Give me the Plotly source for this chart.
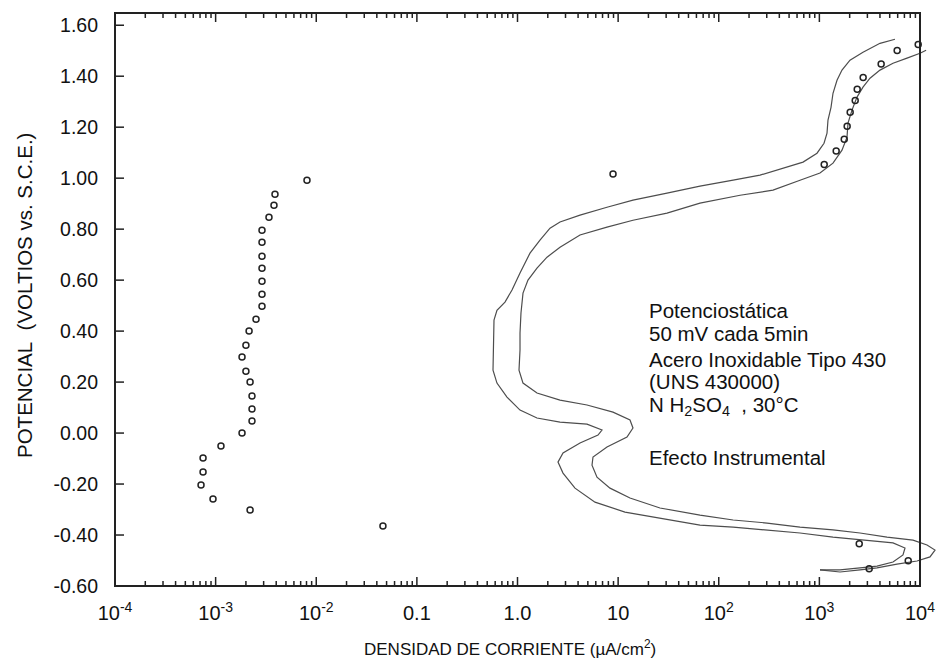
import plotly.graph_objects as go

# ---------------- data ----------------
# open-circle measurements (current density uA/cm2, potential V)
dots_i = [0.00809, 0.00389, 0.00380, 0.00339, 0.00289, 0.00289, 0.00289, 0.00289,
          0.00289, 0.00289, 0.00289, 0.00252, 0.00215, 0.00200, 0.00183, 0.00200,
          0.00220, 0.00230, 0.00230, 0.00230, 0.00183, 0.00113, 0.000750, 0.000750,
          0.000716, 0.000942, 0.00220, 0.046, 8.9,
          1117, 1469, 1766, 1888, 2023, 2270, 2377, 2723, 4111, 5929, 9594,
          2489, 3126, 7638]
dots_v = [0.992, 0.937, 0.894, 0.847, 0.796, 0.749, 0.694, 0.647,
          0.596, 0.545, 0.498, 0.447, 0.400, 0.345, 0.298, 0.243,
          0.200, 0.145, 0.094, 0.047, 0.000, -0.051, -0.098, -0.153,
          -0.204, -0.259, -0.302, -0.365, 1.016,
          1.054, 1.107, 1.153, 1.204, 1.259, 1.305, 1.349, 1.395, 1.448, 1.501, 1.524,
          -0.434, -0.532, -0.501]

# curve A (outer at top / left S)
curve_a_i = [5644, 4004, 2713, 2015, 1678, 1497, 1366, 1305, 1218, 1191, 1112, 947, 688,
             435, 257, 139, 65.1, 30.6, 14.05, 7.75, 4.18, 2.645, 2.104, 1.673, 1.331,
             1.059, 0.882, 0.751, 0.625, 0.584, 0.571, 0.571, 0.625, 0.786, 1.059, 1.562,
             2.645, 4.906, 6.916, 6.31, 4.18, 2.833, 2.526, 2.833, 3.728, 5.891, 11.70,
             26.07, 65.1, 139, 302, 642, 1366, 2974, 5392, 7094, 6778, 5392, 3739, 2534,
             1603, 1014]
curve_a_v = [1.545, 1.529, 1.494, 1.463, 1.424, 1.384, 1.333, 1.278, 1.228, 1.177, 1.137,
             1.098, 1.063, 1.039, 1.012, 0.992, 0.969, 0.941, 0.914, 0.886, 0.855, 0.828,
             0.804, 0.757, 0.706, 0.628, 0.561, 0.514, 0.482, 0.443, 0.326, 0.247, 0.196,
             0.141, 0.090, 0.059, 0.043, 0.035, 0.012, -0.008, -0.039, -0.078, -0.114,
             -0.157, -0.216, -0.271, -0.310, -0.333, -0.361, -0.369, -0.380, -0.392,
             -0.408, -0.420, -0.431, -0.451, -0.478, -0.506, -0.522, -0.529, -0.537, -0.537]

# curve B (inner at top / right S)
curve_b_i = [11500, 10000, 7428, 5392, 4004, 3185, 2713, 2365, 2110, 1925, 1882, 1678, 1366,
             1014, 642, 346, 163, 65.1, 30.6, 14.05, 7.75, 4.18, 2.645, 1.965, 1.562, 1.271,
             1.134, 1.083, 1.059, 1.059, 1.035, 1.134, 1.562, 2.645, 4.906, 8.894, 13.12,
             14.05, 12.25, 7.75, 5.628, 5.501, 6.167, 8.304, 13.12, 26.07, 65.1, 139, 302,
             642, 1366, 2534, 4699, 8519, 11740, 14100, 12570, 9338, 5907, 3739, 2534,
             1603, 1014]
curve_b_v = [1.502, 1.490, 1.471, 1.451, 1.424, 1.392, 1.357, 1.318, 1.267, 1.216, 1.161,
             1.110, 1.059, 1.020, 0.992, 0.953, 0.933, 0.902, 0.863, 0.835, 0.808, 0.777,
             0.729, 0.690, 0.647, 0.600, 0.549, 0.471, 0.392, 0.326, 0.247, 0.196, 0.157,
             0.129, 0.110, 0.082, 0.051, 0.020, -0.016, -0.055, -0.094, -0.126, -0.173,
             -0.216, -0.255, -0.294, -0.322, -0.341, -0.353, -0.369, -0.380, -0.392,
             -0.408, -0.420, -0.439, -0.459, -0.486, -0.502, -0.514, -0.529, -0.537,
             -0.545, -0.537]

x_tickvals = [1e-4, 1e-3, 1e-2, 0.1, 1, 10, 100, 1e3, 1e4]
x_ticktext = ["10<sup>-4</sup>", "10<sup>-3</sup>", "10<sup>-2</sup>", "0.1", "1.0", "10",
              "10<sup>2</sup>", "10<sup>3</sup>", "10<sup>4</sup>"]
x_minor = [m * d for d in [1e-4, 1e-3, 1e-2, 0.1, 1, 10, 100, 1000] for m in range(2, 10)]
y_tickvals = [-0.6, -0.4, -0.2, 0.0, 0.2, 0.4, 0.6, 0.8, 1.0, 1.2, 1.4, 1.6]
y_ticktext = ["-0.60", "-0.40", "-0.20", "0.00", "0.20", "0.40", "0.60", "0.80",
              "1.00", "1.20", "1.40", "1.60"]
y_range = [-0.6, 1.648]

info_lines = ["Potenciostática", "50 mV cada 5min", "Acero Inoxidable Tipo 430",
              "(UNS 430000)", "N H<sub>2</sub>SO<sub>4</sub>\u00a0\u00a0, 30°C",
              "Efecto Instrumental"]

# ---------------- figure ----------------
FONT = "Arial, Liberation Sans, sans-serif"
W, H = 939, 666
ML, MR, MT, MB = 115, 2, 13, 80
frame_right = 920
plot_w = W - ML - MR
plot_h = H - MT - MB
dom = (frame_right - ML) / plot_w      # fraction of plot width where 10^4 sits
n_dec = 8
AXC = "#222222"
TXT = "#111111"

fig = go.Figure()
line_style = dict(color="#4d4d4d", width=1.2)
fig.add_trace(go.Scatter(x=curve_a_i, y=curve_a_v, mode="lines", line=line_style,
                         showlegend=False, hoverinfo="skip"))
fig.add_trace(go.Scatter(x=curve_b_i, y=curve_b_v, mode="lines", line=line_style,
                         showlegend=False, hoverinfo="skip"))
fig.add_trace(go.Scatter(x=dots_i, y=dots_v, mode="markers",
                         marker=dict(symbol="circle-open", size=6, color=AXC,
                                     line=dict(width=1.5, color=AXC)),
                         showlegend=False, cliponaxis=False))

fig.update_layout(
    template="none",
    width=W, height=H,
    margin=dict(l=ML, r=MR, t=MT, b=MB),
    paper_bgcolor="white", plot_bgcolor="white",
    font=dict(family=FONT, color=TXT),
    xaxis=dict(type="log", range=[-4, -4 + n_dec / dom], domain=[0, 1],
               showline=False, ticks="",
               tickmode="array", tickvals=x_tickvals, ticktext=x_ticktext,
               tickfont=dict(size=20, family=FONT, color=TXT),
               ticklabelstandoff=13,
               showgrid=False, zeroline=False, automargin=False),
    yaxis=dict(range=y_range, showline=False, ticks="",
               tickmode="array", tickvals=y_tickvals, ticktext=y_ticktext,
               tickfont=dict(size=19.5, family=FONT, color=TXT),
               ticklabelstandoff=16,
               showgrid=False, zeroline=False, automargin=False),
)

# plot frame (10^-4 .. 10^4 horizontally)
fig.add_shape(type="rect", xref="paper", yref="paper", x0=0, x1=dom, y0=0, y1=1,
              line=dict(color=AXC, width=2), fillcolor="rgba(0,0,0,0)", layer="above")

# inward tick marks: pixel-length lines anchored at the frame edges
tick_line = dict(color=AXC, width=1.5)
for vals, ln in ((x_tickvals, 9), (x_minor, 5)):
    for v in vals:
        for anchor, sign in ((0, 1), (1, -1)):
            fig.add_shape(type="line", xref="x", yref="paper", x0=v, x1=v,
                          ysizemode="pixel", yanchor=anchor, y0=0, y1=sign * ln,
                          line=tick_line, layer="above")
x_lo, x_hi = x_tickvals[0], x_tickvals[-1]
for v in y_tickvals:
    fig.add_shape(type="line", xref="x", yref="y", y0=v, y1=v,
                  xsizemode="pixel", xanchor=x_lo, x0=0, x1=9,
                  line=tick_line, layer="above")
    fig.add_shape(type="line", xref="x", yref="y", y0=v, y1=v,
                  xsizemode="pixel", xanchor=x_hi, x0=0, x1=-7,
                  line=tick_line, layer="above")

def px_x(px):
    return (px - ML) / plot_w

def px_y(py):
    return (H - MB - py) / plot_h

centers = [311, 333, 359, 381, 406, 457]
for txt, cy in zip(info_lines, centers):
    fig.add_annotation(text=txt, xref="paper", yref="paper", x=px_x(647), y=px_y(cy),
                       xanchor="left", yanchor="middle", showarrow=False,
                       font=dict(size=20.5, family=FONT, color=TXT))

fig.add_annotation(text="POTENCIAL\u00a0\u00a0(VOLTIOS vs. S.C.E.)", textangle=-90,
                   xref="paper", yref="paper", x=px_x(25), y=px_y(296),
                   xanchor="center", yanchor="middle", showarrow=False,
                   font=dict(size=20.5, family=FONT, color=TXT))
fig.add_annotation(text="DENSIDAD DE CORRIENTE (µA/cm<sup>2</sup>)",
                   xref="paper", yref="paper", x=px_x(510), y=px_y(648),
                   xanchor="center", yanchor="middle", showarrow=False,
                   font=dict(size=17, family=FONT, color=TXT))

fig.write_html("out.html", config={"displayModeBar": False},
               post_script="document.body.style.margin='0px';")
